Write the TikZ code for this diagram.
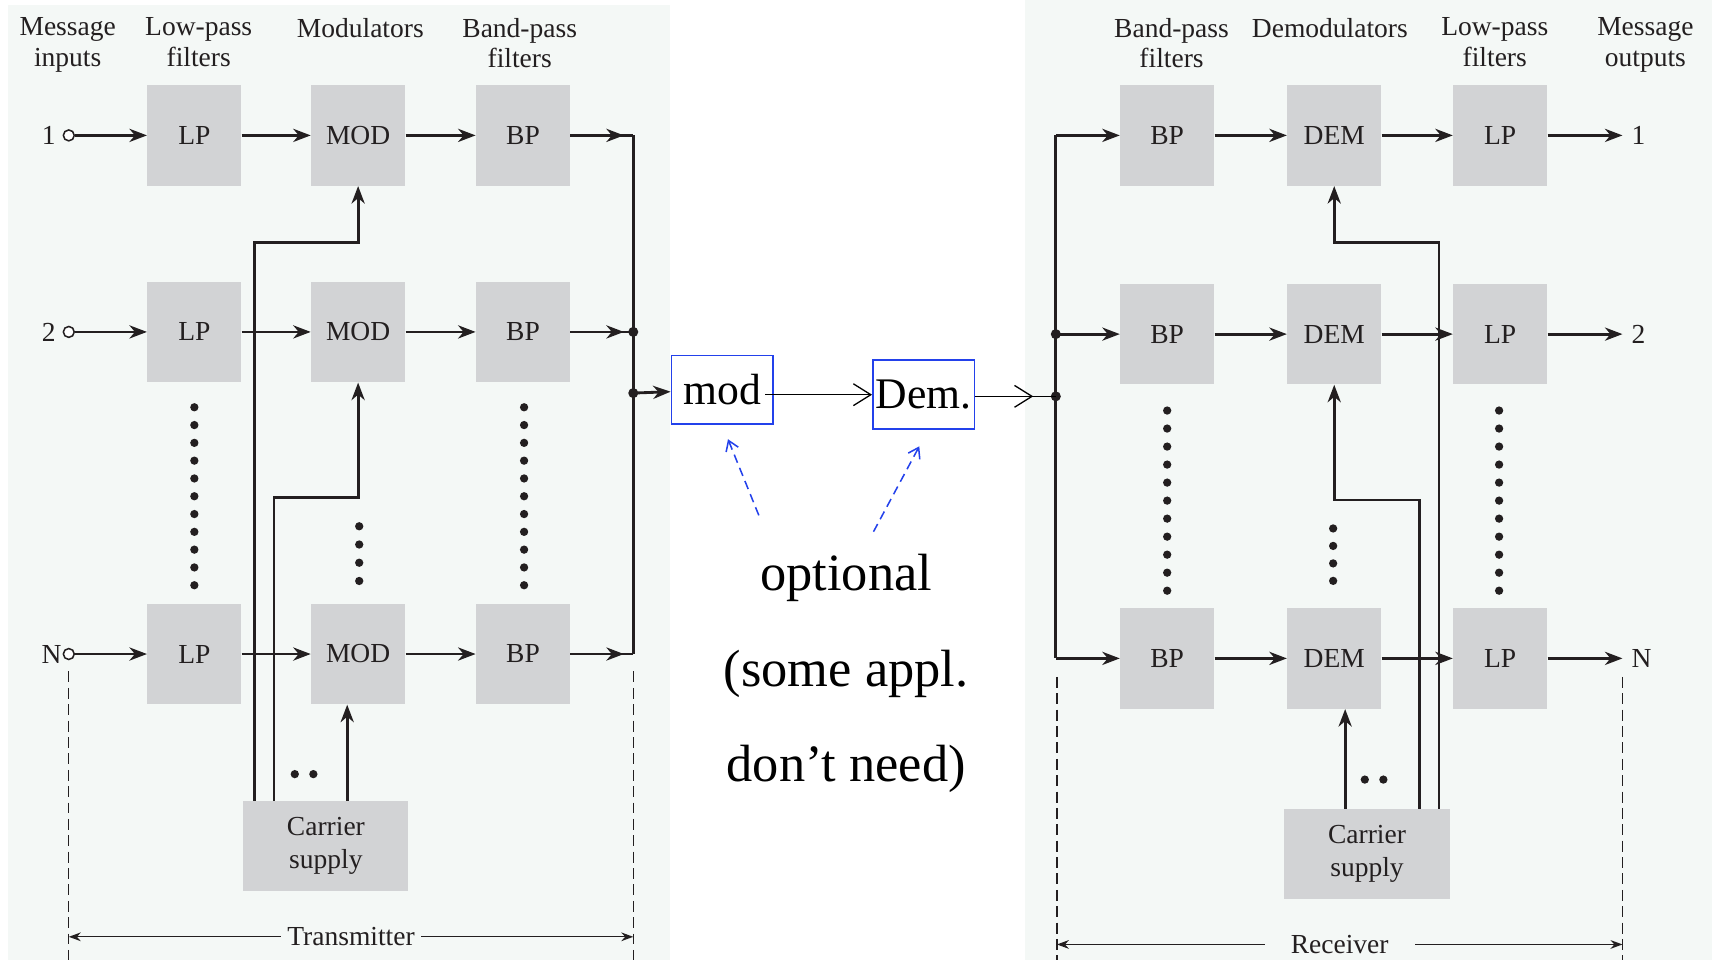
\documentclass[tikz,border=0pt]{standalone}
\usepackage{fontspec}
\setmainfont{Liberation Serif}
\usepackage{tikz}
\usetikzlibrary{positioning,calc,arrows.meta}

\definecolor{panelbg}{RGB}{244,248,246}
\definecolor{boxgray}{RGB}{210,211,213}
\definecolor{ink}{RGB}{35,31,32}
\definecolor{optblue}{RGB}{35,65,235}

\begin{document}
\begin{tikzpicture}[x=0.5pt,y=-0.5pt]
  \tikzstyle{blk}=[rectangle, fill=boxgray, minimum width=43pt, minimum height=46pt, inner sep=0pt, text=ink, font=\fontsize{12.6}{15}\selectfont]
  \tikzstyle{hdr}=[anchor=north, align=center, inner sep=0pt, text=ink, font=\fontsize{12.6}{14}\selectfont]
  \tikzstyle{lbl}=[inner sep=0pt, text=ink, font=\fontsize{12.6}{14}\selectfont]
  \tikzstyle{wire}=[line width=1.3pt, draw=ink]
  \tikzstyle{sig}=[wire, -{Stealth[length=8pt,width=6pt,inset=2.5pt]}]
  \tikzstyle{port}=[circle, draw=ink, fill=white, line width=0.7pt, minimum size=5pt, inner sep=0pt]
  \tikzstyle{dimline}=[draw=ink, line width=0.6pt, dash pattern=on 5pt off 2.5pt]
  \tikzstyle{dimarrow}=[draw=ink, line width=0.6pt, {Stealth[length=5.5pt,width=4pt]}-{Stealth[length=5.5pt,width=4pt]}]
  \tikzstyle{optbox}=[rectangle, draw=optblue, line width=0.8pt, minimum width=46.5pt, minimum height=31.5pt, inner sep=0pt, font=\fontsize{20}{24}\selectfont]
  \tikzstyle{thinarrow}=[draw=black, line width=0.6pt, -{Straight Barb[length=8pt,width=10pt]}]
  \tikzstyle{optarrow}=[draw=optblue, line width=0.7pt, dash pattern=on 4pt off 2.5pt, -{Straight Barb[length=4.5pt,width=6pt]}]

  \useasboundingbox (0,0) rectangle (1568,879);
  \fill[panelbg] (7,5) rectangle (614,879);
  \fill[panelbg] (939,0) rectangle (1568,879);

  \node[hdr] (hIn) at (62,16) {Message\\inputs};
  \node[hdr] (hLp) at (182,16) {Low-pass\\filters};
  \node[hdr] (hMod) at (330,16) {Modulators};
  \node[hdr] (hBp) at (476,16) {Band-pass\\filters};
  \node[hdr] (hRbp) at (1073,16) {Band-pass\\filters};
  \node[hdr] (hDem) at (1218,16) {Demodulators};
  \node[hdr] (hRlp) at (1369,16) {Low-pass\\filters};
  \node[hdr] (hOut) at (1507,16) {Message\\outputs};

  \foreach \r/\y/\t/\d in {1/124/1/3pt, 2/304/2/3pt, n/599/N/0.3pt} {
    \node[port, label={[lbl, label distance=\d]left:\t}] (in\r) at (63,\y) {};
    \node[blk] (lp\r) at (178,\y) {LP};
    \node[blk] (mod\r) at (328,\y) {MOD};
    \node[blk] (bp\r) at (479,\y) {BP};
    \coordinate (bus\r) at (580,\y);
    \draw[sig] (in\r) -- (lp\r);
    \draw[sig] (lp\r) -- (mod\r);
    \draw[sig] (mod\r) -- (bp\r);
    \draw[wire] (bp\r) -- (bus\r);
    \draw[sig] (bp\r.east) -- ++(49,0);
  }
  \coordinate (busM) at (580,360);
  \draw[wire] (bus1) -- (busn);
  \fill[ink] (bus2) circle (2.3pt) (busM) circle (2.3pt);

  \node[blk, minimum width=75.5pt, minimum height=41pt, align=center] (csT) at (298.5,775) {Carrier\\supply};
  \coordinate (tk1) at (233,222);
  \coordinate (tk2) at (251,456);
  \coordinate (tk3) at (318,0);
  \draw[sig] (csT.north -| tk1) -- (tk1) -| (mod1);
  \draw[sig] (csT.north -| tk2) -- (tk2) -| (mod2);
  \draw[sig] (csT.north -| tk3) -- (tk3 |- modn.south);

  \foreach \k in {0,...,10} {
    \fill[ink] (178,{373+16.3*\k}) circle (1.9pt);
    \fill[ink] (480,{373+16.3*\k}) circle (1.9pt);
    \fill[ink] (1069,{376+16.5*\k}) circle (1.9pt);
    \fill[ink] (1373,{376+16.5*\k}) circle (1.9pt);
  }
  \foreach \k in {0,...,3} {
    \fill[ink] (329,{482+16.7*\k}) circle (1.9pt);
    \fill[ink] (1221,{484+16*\k}) circle (1.9pt);
  }
  \fill[ink] (270,709) circle (1.9pt) (287,709) circle (1.9pt);
  \fill[ink] (1250,714) circle (1.9pt) (1267,714) circle (1.9pt);

  \coordinate (dimTl) at (63,858);
  \coordinate (dimTr) at (580,858);
  \draw[dimline] (63,615) -- (63,879) (580,615) -- (580,879);
  \draw[dimarrow] (dimTl) -- (dimTr) node[midway, lbl, fill=panelbg, inner xsep=3pt] (txlbl) {Transmitter};

  \node[optbox] (optmod) at (661.5,357) {mod};
  \node[optbox] (optdem) at (846,361.5) {Dem.};
  \node[font=\fontsize{24}{43.75}\selectfont, align=center, inner sep=0pt] (optnote) at (775,617) {optional\\(some appl.\\don’t need)};
  \coordinate (optA) at (695,472);
  \coordinate (optB) at (800,487);
  \draw[sig] (busM) -- (optmod);
  \draw[thinarrow] ([xshift=-4pt]optmod.east |- optdem.west) -- (optdem.west);
  \draw[optarrow, shorten >=7pt] (optA) -- (optmod.south);
  \draw[optarrow, shorten >=8.5pt] (optB) -- ([xshift=2pt]optdem.south);

  \foreach \r/\y/\t in {1/124/1, 2/306/2, n/603/N} {
    \coordinate (rbus\r) at (967,\y);
    \node[blk] (rbp\r) at (1069,\y) {BP};
    \node[blk] (dem\r) at (1222,\y) {DEM};
    \node[blk] (rlp\r) at (1374,\y) {LP};
    \coordinate (out\r) at (1486,\y);
    \node[lbl, right=4pt of out\r] (olbl\r) {\t};
    \draw[sig] (rbus\r) -- (rbp\r);
    \draw[sig] (rbp\r) -- (dem\r);
    \draw[sig] (dem\r) -- (rlp\r);
    \draw[sig] (rlp\r) -- (out\r);
  }
  \coordinate (rbusM) at (967,363);
  \draw[wire] (rbus1) -- (rbusn);
  \fill[ink] (rbus2) circle (2.3pt) (rbusM) circle (2.3pt);
  \draw[draw=black, line width=0.6pt] (optdem.east |- rbusM) -- (rbusM);
  \draw[thinarrow] (optdem.east |- rbusM) -- ++(53,0);

  \node[blk, minimum width=76pt, minimum height=41pt, align=center] (csR) at (1252,782) {Carrier\\supply};
  \coordinate (rk1) at (1318,222);
  \coordinate (rk2) at (1300,458);
  \coordinate (rk3) at (1232,0);
  \draw[sig] (csR.north -| rk1) -- (rk1) -| (dem1);
  \draw[sig] (csR.north -| rk2) -- (rk2) -| (dem2);
  \draw[sig] (csR.north -| rk3) -- (rk3 |- demn.south);

  \coordinate (dimRl) at (968,865);
  \coordinate (dimRr) at (1486,865);
  \draw[dimline] (968,620) -- (968,879) (1486,620) -- (1486,879);
  \draw[dimarrow] (dimRl) -- (dimRr) node[midway, lbl, fill=panelbg, inner xsep=12pt] (rxlbl) {Receiver};
\end{tikzpicture}
\end{document}
